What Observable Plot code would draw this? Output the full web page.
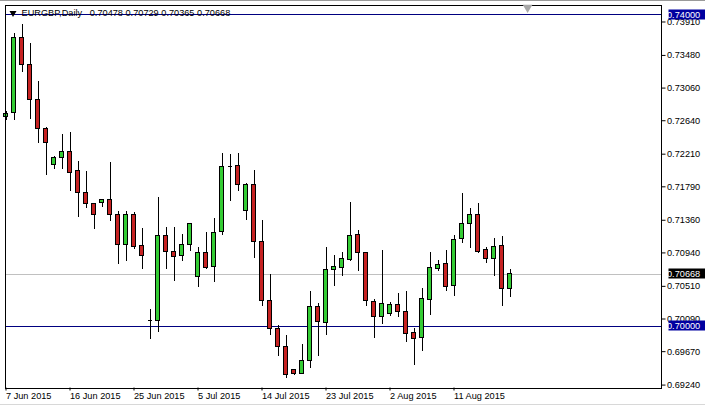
<!DOCTYPE html>
<html><head><meta charset="utf-8">
<script src="https://cdn.jsdelivr.net/npm/d3@7"></script>
<script src="https://cdn.jsdelivr.net/npm/@observablehq/plot@0.6"></script>
<style>
html,body{margin:0;padding:0;background:#fff;}
#chart{position:relative;width:705px;height:407px;overflow:hidden;}
#chart svg{display:block;}
.edge-top{position:absolute;left:0;top:0;width:705px;height:1px;background:#9a9a9a;}
.edge-bot{position:absolute;left:0;top:404px;width:705px;height:1px;background:#d8d8d8;}
</style></head><body><div id="chart"><div class="edge-top"></div><div class="edge-bot"></div></div>
<script>
const symbolName = "EURGBP,Daily";
const dates = ["2015-06-07","2015-06-08","2015-06-09","2015-06-10","2015-06-11","2015-06-12","2015-06-14","2015-06-15","2015-06-16","2015-06-17","2015-06-18","2015-06-19","2015-06-21","2015-06-22","2015-06-23","2015-06-24","2015-06-25","2015-06-26","2015-06-28","2015-06-29","2015-06-30","2015-07-01","2015-07-02","2015-07-03","2015-07-05","2015-07-06","2015-07-07","2015-07-08","2015-07-09","2015-07-10","2015-07-12","2015-07-13","2015-07-14","2015-07-15","2015-07-16","2015-07-17","2015-07-19","2015-07-20","2015-07-21","2015-07-22","2015-07-23","2015-07-24","2015-07-26","2015-07-27","2015-07-28","2015-07-29","2015-07-30","2015-07-31","2015-08-02","2015-08-03","2015-08-04","2015-08-05","2015-08-06","2015-08-07","2015-08-09","2015-08-10","2015-08-11","2015-08-12","2015-08-13","2015-08-14","2015-08-16","2015-08-17","2015-08-18","2015-08-19"];
const opens  = [0.72688,0.72740,0.73700,0.73353,0.72911,0.72530,0.72071,0.72157,0.72234,0.71990,0.71714,0.71565,0.71586,0.71617,0.71428,0.71038,0.71428,0.71025,0.70073,0.70060,0.71154,0.70952,0.70896,0.71038,0.70626,0.70935,0.70755,0.71205,0.72049,0.72054,0.71475,0.71810,0.71077,0.70325,0.69958,0.69726,0.69434,0.69386,0.69546,0.70241,0.70039,0.70716,0.70742,0.70845,0.71167,0.70939,0.70313,0.70112,0.70150,0.70266,0.70176,0.69906,0.69842,0.70330,0.70729,0.70794,0.70511,0.71115,0.71308,0.71424,0.70981,0.70858,0.71025,0.70478];
const highs  = [0.72765,0.73760,0.73880,0.73636,0.73151,0.72551,0.72178,0.72466,0.72491,0.72118,0.71990,0.71573,0.71633,0.72109,0.71475,0.71475,0.71462,0.71257,0.70206,0.71659,0.71273,0.71273,0.71179,0.71312,0.71007,0.71209,0.71385,0.72221,0.72208,0.72221,0.71830,0.72003,0.71359,0.70665,0.70009,0.69884,0.69438,0.69756,0.70446,0.70292,0.71016,0.70909,0.70939,0.71582,0.71231,0.70939,0.70347,0.70977,0.70296,0.70412,0.70450,0.69974,0.70480,0.70939,0.70845,0.70965,0.71167,0.71698,0.71514,0.71578,0.71016,0.71128,0.71154,0.70729];
const lows   = [0.72637,0.72637,0.73258,0.72653,0.72345,0.71942,0.72010,0.72010,0.71736,0.71393,0.71514,0.71235,0.71522,0.71338,0.70794,0.70827,0.70990,0.70724,0.69820,0.69910,0.70724,0.70570,0.70836,0.70956,0.70493,0.70724,0.70557,0.71161,0.71595,0.71727,0.71363,0.70866,0.70248,0.69884,0.69605,0.69327,0.69357,0.69370,0.69451,0.69614,0.69878,0.70514,0.70643,0.70836,0.70707,0.70257,0.69837,0.70013,0.70125,0.70107,0.69785,0.69495,0.69678,0.70138,0.70704,0.70441,0.70377,0.71064,0.70994,0.70935,0.70801,0.70639,0.70248,0.70365];
const closes = [0.72727,0.73700,0.73353,0.72911,0.72530,0.72350,0.72161,0.72234,0.71972,0.71714,0.71565,0.71424,0.71617,0.71424,0.71038,0.71428,0.71020,0.70896,0.70073,0.71154,0.70948,0.70891,0.71038,0.71308,0.70935,0.70746,0.71192,0.72041,0.72049,0.71817,0.71814,0.71077,0.70325,0.69958,0.69726,0.69366,0.69386,0.69546,0.70241,0.70051,0.70716,0.70755,0.70858,0.71154,0.70935,0.70318,0.70112,0.70279,0.70266,0.70176,0.69893,0.69829,0.70343,0.70742,0.70788,0.70505,0.71110,0.71308,0.71424,0.70952,0.70858,0.71020,0.70472,0.70668];
const yTicks = [0.73910,0.73480,0.73060,0.72640,0.72210,0.71790,0.71360,0.70940,0.70510,0.70090,0.69670,0.69240];
const xTickDates = ["2015-06-07","2015-06-16","2015-06-25","2015-07-05","2015-07-14","2015-07-23","2015-08-02","2015-08-11"];
const xTickLabels = ["7 Jun 2015","16 Jun 2015","25 Jun 2015","5 Jul 2015","14 Jul 2015","23 Jul 2015","2 Aug 2015","11 Aug 2015"];
const levelLines = [0.74000, 0.70000];
const bidPrice = 0.70668;
const yDomain = [0.692026, 0.741286];
const xDomain = [-0.125, 81.875];
const chartShiftBars = 2.2;

const fmt = d3.format(".5f");
const candles = dates.map((d, i) => ({i, date: d, open: opens[i], high: highs[i], low: lows[i], close: closes[i], up: closes[i] >= opens[i]}));
const last = candles[candles.length - 1];
const xTickIdx = xTickDates.map(d => dates.indexOf(d));
const labelOf = new Map(xTickIdx.map((i, k) => [i, xTickLabels[k]]));
const title = `${symbolName}\u00a0\u00a0\u00a0${fmt(last.open)} ${fmt(last.high)} ${fmt(last.low)} ${fmt(last.close)}`;
const GREEN = "#34cc34", RED = "#c62222", NAVY = "#000080";
const tags = [...levelLines.map(v => ({v, box: "#0000a0"})), {v: bidPrice, box: "#000000"}];

// price tag boxes drawn from the y scale inside the text mark's render step
function tagBoxes(I, scales, values, dims, context, next) {
  const g = next(I, scales, values, dims, context);
  const ns = "http://www.w3.org/2000/svg";
  const x0 = dims.width - dims.marginRight;
  for (const i of I) {
    const y = scales.y(tags[i].v);
    const r = document.createElementNS(ns, "rect");
    r.setAttribute("x", x0 + 1.5);
    r.setAttribute("y", Math.floor(y - 5));
    r.setAttribute("width", 38);
    r.setAttribute("height", 10);
    r.setAttribute("fill", tags[i].box);
    r.setAttribute("stroke", "none");
    g.insertBefore(r, g.firstChild);
  }
  return g;
}

const chart = Plot.plot({
  width: 705, height: 407,
  marginLeft: 4.5, marginRight: 44.5, marginTop: 4.5, marginBottom: 19.5,
  x: {type: "linear", domain: xDomain, label: null},
  y: {domain: yDomain, label: null},
  style: {fontFamily: "'Liberation Sans', Arial, sans-serif", fontSize: "9.2px", color: "black", background: "transparent", overflow: "visible"},
  marks: [
    Plot.ruleY([bidPrice], {stroke: "#c0c0c0", shapeRendering: "crispEdges"}),
    Plot.ruleY(levelLines, {stroke: NAVY, shapeRendering: "crispEdges"}),
    Plot.ruleX(candles, {x: "i", y1: "low", y2: "high", stroke: "black", shapeRendering: "crispEdges"}),
    Plot.rect(candles, {x1: d => d.i - 0.25, x2: d => d.i + 0.25, y1: "open", y2: "close", fill: d => d.up ? GREEN : RED, stroke: "black", strokeWidth: 1, shapeRendering: "crispEdges"}),
    Plot.ruleY(candles.filter(d => d.open === d.close), {y: "close", x1: d => d.i - 0.25, x2: d => d.i + 0.25, stroke: "black", shapeRendering: "crispEdges"}),
    Plot.frame({stroke: "black", shapeRendering: "crispEdges"}),
    Plot.axisY({anchor: "right", ticks: yTicks, tickFormat: fmt, tickSize: 4, tickPadding: 2, stroke: "black", label: null}),
    Plot.axisX({ticks: xTickIdx, tickFormat: i => labelOf.get(i), tickSize: 3, tickPadding: 1.5, textAnchor: "start", stroke: "black", label: null}),
    Plot.dot([0], {frameAnchor: "top-left", dx: 8, dy: 8, symbol: "triangle", rotate: 180, r: 2.6, fill: "black", stroke: null}),
    Plot.text([title], {frameAnchor: "top-left", dx: 16.5, dy: 4.5, lineAnchor: "top", textAnchor: "start", fill: "black", fontSize: 9.2}),
    Plot.dot([last.i + chartShiftBars], {x: d => d, frameAnchor: "top", dy: 2.5, symbol: "triangle", rotate: 180, r: 3.6, fill: "#a8a8a8", stroke: null}),
    Plot.text(tags, {y: "v", text: d => fmt(d.v), frameAnchor: "right", dx: 6, textAnchor: "start", fill: "white", stroke: null, render: tagBoxes})
  ]
});
const host = document.getElementById("chart");
host.insertBefore(chart, host.firstChild);
</script>
</body></html>
